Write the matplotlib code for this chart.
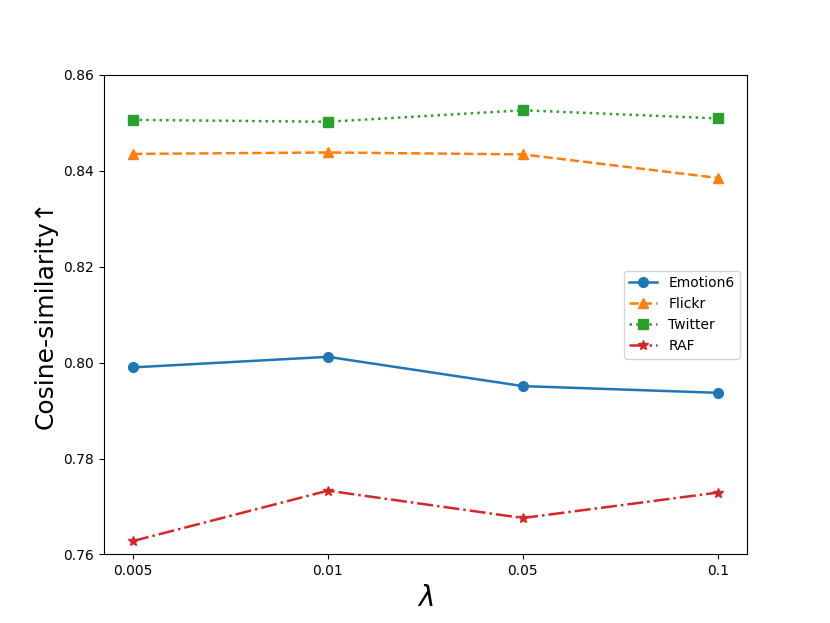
import matplotlib
matplotlib.use('Agg')
import matplotlib.pyplot as plt

lambdas = ['0.005', '0.01', '0.05', '0.1']
emotion6 = [0.7990, 0.8012, 0.7951, 0.7937]
flickr = [0.8435, 0.8438, 0.8434, 0.8385]
twitter = [0.8506, 0.8502, 0.8526, 0.8509]
raf = [0.7628, 0.7733, 0.7676, 0.7729]

fig = plt.figure(figsize=(8.3, 6.23), dpi=100)
ax = fig.add_subplot(111)

ax.plot(lambdas, emotion6, marker='o', linestyle='-', linewidth=1.8, markersize=7, label='Emotion6')
ax.plot(lambdas, flickr, marker='^', linestyle='--', linewidth=1.8, markersize=7, label='Flickr')
ax.plot(lambdas, twitter, marker='s', linestyle=':', linewidth=1.8, markersize=7, label='Twitter')
ax.plot(lambdas, raf, marker='*', linestyle='-.', linewidth=1.8, markersize=7, label='RAF')

ax.set_ylim(0.76, 0.86)
ax.set_yticks([0.76, 0.78, 0.80, 0.82, 0.84, 0.86])
ax.set_xlabel(r'$\lambda$', fontsize=20)
ax.set_ylabel('Cosine-similarity↑', fontsize=18)
ax.legend(loc='center right')

fig.savefig('out.png', dpi=100)
